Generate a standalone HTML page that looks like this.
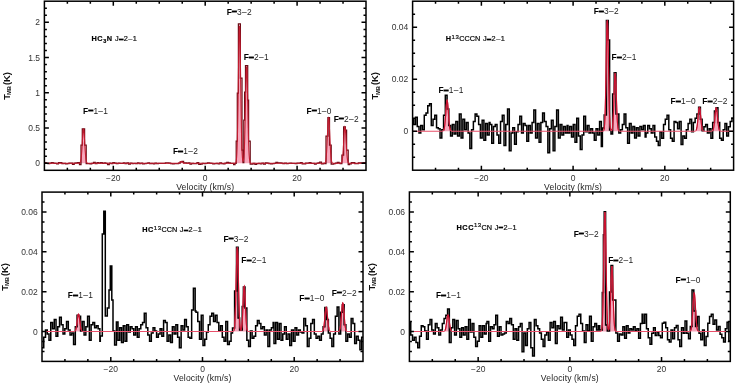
<!DOCTYPE html>
<html><head><meta charset="utf-8"><style>
html,body{margin:0;padding:0;background:#fff;width:735px;height:383px;overflow:hidden}
svg{display:block;filter:blur(0.3px)}
text{font-family:"Liberation Sans",sans-serif}
.tl{font-size:8.5px;fill:#333}
.al{font-size:8.6px;fill:#222;letter-spacing:0.14px}
.yl{font-size:9.4px;fill:#111;font-weight:bold}
.lb{font-size:8.4px;fill:#222;letter-spacing:0.3px}
.lb .b{font-weight:bold;fill:#000}
.m{font-weight:normal}
.eq{font-weight:bold;fill:#000;stroke:#000;stroke-width:1.0px}
.tt{font-size:7.3px;fill:#111;stroke:#111;stroke-width:0.22px;letter-spacing:0.5px}
.sb{font-size:5.5px}
.sp{font-size:6px}
.k{fill:#000;stroke:#000;stroke-width:0.2px;letter-spacing:0}
.tt .b{font-weight:bold;fill:#000}
.sub{font-size:5.8px}
.sub2{font-size:5px}
</style></head><body>
<svg width="735" height="383" viewBox="0 0 735 383">
<path d="M44.4 163.25 L78.65 163.24 L78.9 163.23 L79.15 163.21 L79.4 163.15 L79.65 163.05 L79.9 162.87 L80.15 162.56 L80.4 162.04 L80.65 161.21 L80.9 159.98 L81.15 158.22 L81.4 155.85 L81.65 152.82 L81.9 149.17 L82.15 145.06 L82.4 140.75 L82.65 136.6 L82.9 133.02 L83.15 130.43 L83.4 129.12 L83.65 129.27 L83.9 130.85 L84.15 133.67 L84.4 137.4 L84.65 141.61 L84.9 145.91 L85.15 149.94 L85.4 153.47 L85.65 156.37 L85.9 158.62 L86.15 160.26 L86.4 161.41 L86.65 162.16 L86.9 162.64 L87.15 162.92 L87.4 163.08 L87.65 163.17 L87.9 163.21 L88.15 163.24 L88.4 163.25 L177.4 163.25 L177.65 163.24 L177.9 163.22 L178.15 163.2 L178.4 163.16 L178.65 163.11 L178.9 163.03 L179.15 162.92 L179.4 162.78 L179.65 162.61 L179.9 162.42 L180.15 162.21 L180.4 162.01 L180.65 161.83 L180.9 161.69 L181.15 161.61 L181.4 161.61 L181.65 161.67 L181.9 161.79 L182.15 161.97 L182.4 162.17 L182.65 162.38 L182.9 162.57 L183.15 162.75 L183.4 162.9 L183.65 163.01 L183.9 163.1 L184.15 163.16 L184.4 163.2 L184.65 163.22 L184.9 163.24 L185.15 163.24 L234.4 163.25 L234.65 163.24 L234.9 163.21 L235.15 163.15 L235.4 163.01 L235.65 162.75 L235.9 162.23 L236.15 161.28 L236.4 159.61 L236.65 156.87 L236.9 152.56 L237.15 146.18 L237.4 137.25 L237.65 125.48 L237.9 110.92 L238.15 94.09 L238.4 76.07 L238.65 58.43 L238.9 43.03 L239.15 31.73 L239.4 26.02 L239.65 26.67 L239.9 33.59 L240.15 45.84 L240.4 61.84 L240.65 79.7 L240.9 97.6 L241.15 114.04 L241.4 128.07 L241.65 139.25 L241.9 147.62 L242.15 153.52 L242.4 157.4 L242.65 159.75 L242.9 160.97 L243.15 161.28 L243.4 160.8 L243.65 159.45 L243.9 157.02 L244.15 153.21 L244.4 147.72 L244.65 140.27 L244.9 130.81 L245.15 119.56 L245.4 107.12 L245.65 94.47 L245.9 82.86 L246.15 73.63 L246.4 67.95 L246.65 66.59 L246.9 69.74 L247.15 76.96 L247.4 87.29 L247.65 99.48 L247.9 112.18 L248.15 124.24 L248.4 134.83 L248.65 143.5 L248.9 150.16 L249.15 154.97 L249.4 158.26 L249.65 160.38 L249.9 161.68 L250.15 162.43 L250.4 162.84 L250.65 163.06 L250.9 163.17 L251.15 163.22 L251.4 163.24 L251.65 163.25 L323.65 163.25 L323.9 163.23 L324.15 163.21 L324.4 163.16 L324.65 163.05 L324.9 162.86 L325.15 162.53 L325.4 161.96 L325.65 161.05 L325.9 159.65 L326.15 157.62 L326.4 154.82 L326.65 151.17 L326.9 146.66 L327.15 141.45 L327.4 135.81 L327.65 130.17 L327.9 125.08 L328.15 121.07 L328.4 118.62 L328.65 118.04 L328.9 119.39 L329.15 122.51 L329.4 127.02 L329.65 132.39 L329.9 138.09 L330.15 143.6 L330.4 148.56 L330.65 152.74 L330.9 156.04 L331.15 158.52 L331.4 160.28 L331.65 161.46 L331.9 162.22 L332.15 162.68 L332.4 162.95 L332.65 163.1 L332.9 163.18 L333.15 163.22 L333.4 163.24 L333.65 163.25 L339.9 163.25 L340.15 163.24 L340.4 163.22 L340.65 163.19 L340.9 163.11 L341.15 162.98 L341.4 162.74 L341.65 162.33 L341.9 161.66 L342.15 160.63 L342.4 159.12 L342.65 157 L342.9 154.21 L343.15 150.74 L343.4 146.66 L343.65 142.18 L343.9 137.64 L344.15 133.43 L344.4 130.01 L344.65 127.78 L344.9 127 L345.15 127.78 L345.4 130.01 L345.65 133.43 L345.9 137.64 L346.15 142.18 L346.4 146.66 L346.65 150.74 L346.9 154.21 L347.15 157 L347.4 159.12 L347.65 160.63 L347.9 161.66 L348.15 162.33 L348.4 162.74 L348.65 162.98 L348.9 163.11 L349.15 163.19 L349.4 163.22 L349.65 163.24 L349.9 163.25 L365.9 163.25 L366 163.25 L44.4 163.25 Z" fill="#f7a8bd" stroke="none"/>
<path d="M44.4 162.7 L46.15 162.7 L46.15 163.42 L47.91 163.42 L47.91 163.7 L49.66 163.7 L49.66 163.02 L51.41 163.02 L51.41 162.66 L53.17 162.66 L53.17 163.22 L54.92 163.22 L54.92 163.47 L56.68 163.47 L56.68 163.75 L58.43 163.75 L58.43 162.71 L60.18 162.71 L60.18 162.67 L61.94 162.67 L61.94 163.57 L63.69 163.57 L63.69 163.47 L65.44 163.47 L65.44 163.94 L67.2 163.94 L67.2 163.7 L68.95 163.7 L68.95 163.21 L70.71 163.21 L70.71 163.13 L72.46 163.13 L72.46 164.41 L74.21 164.41 L74.21 163.12 L75.97 163.12 L75.97 162.9 L77.72 162.9 L77.72 162.74 L79.5 162.74 L79.5 164.5 L81 164.5 L81 145 L82.3 145 L82.3 128.9 L84.6 128.9 L84.6 145 L86.2 145 L86.2 163.5 L88.24 163.5 L88.24 163.57 L90 163.57 L90 163.75 L91.75 163.75 L91.75 163.35 L93.5 163.35 L93.5 162.45 L95.26 162.45 L95.26 163.57 L97.01 163.57 L97.01 162.62 L98.76 162.62 L98.76 163.18 L100.52 163.18 L100.52 162.59 L102.27 162.59 L102.27 163.26 L104.03 163.26 L104.03 162.9 L105.78 162.9 L105.78 163.35 L107.53 163.35 L107.53 164.74 L109.29 164.74 L109.29 163.23 L111.04 163.23 L111.04 163.63 L112.79 163.63 L112.79 162.66 L114.55 162.66 L114.55 163.12 L116.3 163.12 L116.3 163.55 L118.06 163.55 L118.06 163.21 L119.81 163.21 L119.81 163.42 L121.56 163.42 L121.56 163.3 L123.32 163.3 L123.32 162.8 L125.07 162.8 L125.07 163.51 L126.82 163.51 L126.82 162.89 L128.58 162.89 L128.58 164.1 L130.33 164.1 L130.33 163.03 L132.08 163.03 L132.08 163.56 L133.84 163.56 L133.84 163.26 L135.59 163.26 L135.59 163.68 L137.35 163.68 L137.35 162.98 L139.1 162.98 L139.1 163.7 L140.85 163.7 L140.85 163.2 L142.61 163.2 L142.61 163.82 L144.36 163.82 L144.36 163.54 L146.11 163.54 L146.11 163.32 L147.87 163.32 L147.87 162.9 L149.62 162.9 L149.62 163.6 L151.38 163.6 L151.38 163.46 L153.13 163.46 L153.13 163.99 L154.88 163.99 L154.88 163.08 L156.64 163.08 L156.64 163.5 L158.39 163.5 L158.39 163.48 L160.14 163.48 L160.14 163.38 L161.9 163.38 L161.9 163.35 L163.65 163.35 L163.65 163.34 L165.41 163.34 L165.41 162.98 L167.16 162.98 L167.16 162.8 L168.91 162.8 L168.91 163.08 L170.67 163.08 L170.67 163.52 L172.42 163.52 L172.42 163.93 L174.17 163.93 L174.17 163.69 L175.93 163.69 L175.93 163.73 L177.68 163.73 L177.68 163.6 L178.5 163.6 L178.5 163.2 L180.2 163.2 L180.2 161.8 L182 161.8 L182 161.4 L183.6 161.4 L183.6 162.8 L186.45 162.8 L186.45 163.11 L188.2 163.11 L188.2 162.94 L189.96 162.94 L189.96 164.14 L191.71 164.14 L191.71 163.36 L193.46 163.36 L193.46 163.69 L195.22 163.69 L195.22 163.65 L196.97 163.65 L196.97 162.74 L198.73 162.74 L198.73 164.35 L200.48 164.35 L200.48 164.05 L202.23 164.05 L202.23 163.33 L203.99 163.33 L203.99 163.59 L205.74 163.59 L205.74 163.31 L207.49 163.31 L207.49 162.86 L209.25 162.86 L209.25 163.2 L211 163.2 L211 163.42 L212.76 163.42 L212.76 163.76 L214.51 163.76 L214.51 163.57 L216.26 163.57 L216.26 163.28 L218.02 163.28 L218.02 163.86 L219.77 163.86 L219.77 162.91 L221.52 162.91 L221.52 163.61 L223.28 163.61 L223.28 163.75 L225.03 163.75 L225.03 163.12 L226.78 163.12 L226.78 162.45 L228.54 162.45 L228.54 162.85 L230.29 162.85 L230.29 163.36 L232.05 163.36 L232.05 163.49 L233.6 163.49 L233.6 164.5 L235 164.5 L235 163.4 L236.2 163.4 L236.2 141 L237.3 141 L237.3 93 L238.4 93 L238.4 23.8 L240.4 23.8 L240.4 78 L242 78 L242 150 L243 150 L243 162.5 L243.8 162.5 L243.8 120 L244.6 120 L244.6 92 L245.5 92 L245.5 65.5 L247.7 65.5 L247.7 100 L248.6 100 L248.6 141 L250.2 141 L250.2 164 L253.09 164 L253.09 163.35 L254.84 163.35 L254.84 164.37 L256.6 164.37 L256.6 163.53 L258.35 163.53 L258.35 163.31 L260.11 163.31 L260.11 163.96 L261.86 163.96 L261.86 163.22 L263.61 163.22 L263.61 164.09 L265.37 164.09 L265.37 162.95 L267.12 162.95 L267.12 163.04 L268.87 163.04 L268.87 163.58 L270.63 163.58 L270.63 163.9 L272.38 163.9 L272.38 163.55 L274.13 163.55 L274.13 163.39 L275.89 163.39 L275.89 162.43 L277.64 162.43 L277.64 162.93 L279.4 162.93 L279.4 162.98 L281.15 162.98 L281.15 163.01 L282.9 163.01 L282.9 163.52 L284.66 163.52 L284.66 163.1 L286.41 163.1 L286.41 163.61 L288.16 163.61 L288.16 163.29 L289.92 163.29 L289.92 163.1 L291.67 163.1 L291.67 163.31 L293.43 163.31 L293.43 163.45 L295.18 163.45 L295.18 163.64 L296.93 163.64 L296.93 163.04 L298.69 163.04 L298.69 163.15 L300.44 163.15 L300.44 162.64 L302.19 162.64 L302.19 163.98 L303.95 163.98 L303.95 163.91 L305.7 163.91 L305.7 163.17 L307.45 163.17 L307.45 163.04 L309.21 163.04 L309.21 162.7 L310.96 162.7 L310.96 163.33 L312.72 163.33 L312.72 163.35 L314.47 163.35 L314.47 164.24 L316.22 164.24 L316.22 163.37 L317.98 163.37 L317.98 162.9 L319.73 162.9 L319.73 162.15 L321.48 162.15 L321.48 163.89 L323.24 163.89 L323.24 163.34 L324.2 163.34 L324.2 163.6 L326 163.6 L326 136 L327.9 136 L327.9 117.6 L329.5 117.6 L329.5 145 L331.2 145 L331.2 164 L333.76 164 L333.76 163.51 L335.51 163.51 L335.51 163.18 L337.27 163.18 L337.27 162.29 L339.02 162.29 L339.02 163.2 L340.2 163.2 L340.2 163.5 L341.9 163.5 L341.9 155 L343.6 155 L343.6 126.8 L345.4 126.8 L345.4 130 L346.6 130 L346.6 150 L348.2 150 L348.2 164.5 L349.54 164.5 L349.54 163.99 L351.3 163.99 L351.3 162.72 L353.05 162.72 L353.05 162.56 L354.8 162.56 L354.8 163.65 L356.56 163.65 L356.56 163.64 L358.31 163.64 L358.31 162.81 L360.07 162.81 L360.07 162.94 L361.82 162.94 L361.82 162.94 L363.57 162.94 L363.57 162.72 L365.33 162.72 L365.33 162.95 L366 162.95" fill="none" stroke="#6a0a14" stroke-width="1.25" stroke-linejoin="miter"/>
<path d="M44.4 163.25 L78.65 163.24 L78.9 163.23 L79.15 163.21 L79.4 163.15 L79.65 163.05 L79.9 162.87 L80.15 162.56 L80.4 162.04 L80.65 161.21 L80.9 159.98 L81.15 158.22 L81.4 155.85 L81.65 152.82 L81.9 149.17 L82.15 145.06 L82.4 140.75 L82.65 136.6 L82.9 133.02 L83.15 130.43 L83.4 129.12 L83.65 129.27 L83.9 130.85 L84.15 133.67 L84.4 137.4 L84.65 141.61 L84.9 145.91 L85.15 149.94 L85.4 153.47 L85.65 156.37 L85.9 158.62 L86.15 160.26 L86.4 161.41 L86.65 162.16 L86.9 162.64 L87.15 162.92 L87.4 163.08 L87.65 163.17 L87.9 163.21 L88.15 163.24 L88.4 163.25 L177.4 163.25 L177.65 163.24 L177.9 163.22 L178.15 163.2 L178.4 163.16 L178.65 163.11 L178.9 163.03 L179.15 162.92 L179.4 162.78 L179.65 162.61 L179.9 162.42 L180.15 162.21 L180.4 162.01 L180.65 161.83 L180.9 161.69 L181.15 161.61 L181.4 161.61 L181.65 161.67 L181.9 161.79 L182.15 161.97 L182.4 162.17 L182.65 162.38 L182.9 162.57 L183.15 162.75 L183.4 162.9 L183.65 163.01 L183.9 163.1 L184.15 163.16 L184.4 163.2 L184.65 163.22 L184.9 163.24 L185.15 163.24 L234.4 163.25 L234.65 163.24 L234.9 163.21 L235.15 163.15 L235.4 163.01 L235.65 162.75 L235.9 162.23 L236.15 161.28 L236.4 159.61 L236.65 156.87 L236.9 152.56 L237.15 146.18 L237.4 137.25 L237.65 125.48 L237.9 110.92 L238.15 94.09 L238.4 76.07 L238.65 58.43 L238.9 43.03 L239.15 31.73 L239.4 26.02 L239.65 26.67 L239.9 33.59 L240.15 45.84 L240.4 61.84 L240.65 79.7 L240.9 97.6 L241.15 114.04 L241.4 128.07 L241.65 139.25 L241.9 147.62 L242.15 153.52 L242.4 157.4 L242.65 159.75 L242.9 160.97 L243.15 161.28 L243.4 160.8 L243.65 159.45 L243.9 157.02 L244.15 153.21 L244.4 147.72 L244.65 140.27 L244.9 130.81 L245.15 119.56 L245.4 107.12 L245.65 94.47 L245.9 82.86 L246.15 73.63 L246.4 67.95 L246.65 66.59 L246.9 69.74 L247.15 76.96 L247.4 87.29 L247.65 99.48 L247.9 112.18 L248.15 124.24 L248.4 134.83 L248.65 143.5 L248.9 150.16 L249.15 154.97 L249.4 158.26 L249.65 160.38 L249.9 161.68 L250.15 162.43 L250.4 162.84 L250.65 163.06 L250.9 163.17 L251.15 163.22 L251.4 163.24 L251.65 163.25 L323.65 163.25 L323.9 163.23 L324.15 163.21 L324.4 163.16 L324.65 163.05 L324.9 162.86 L325.15 162.53 L325.4 161.96 L325.65 161.05 L325.9 159.65 L326.15 157.62 L326.4 154.82 L326.65 151.17 L326.9 146.66 L327.15 141.45 L327.4 135.81 L327.65 130.17 L327.9 125.08 L328.15 121.07 L328.4 118.62 L328.65 118.04 L328.9 119.39 L329.15 122.51 L329.4 127.02 L329.65 132.39 L329.9 138.09 L330.15 143.6 L330.4 148.56 L330.65 152.74 L330.9 156.04 L331.15 158.52 L331.4 160.28 L331.65 161.46 L331.9 162.22 L332.15 162.68 L332.4 162.95 L332.65 163.1 L332.9 163.18 L333.15 163.22 L333.4 163.24 L333.65 163.25 L339.9 163.25 L340.15 163.24 L340.4 163.22 L340.65 163.19 L340.9 163.11 L341.15 162.98 L341.4 162.74 L341.65 162.33 L341.9 161.66 L342.15 160.63 L342.4 159.12 L342.65 157 L342.9 154.21 L343.15 150.74 L343.4 146.66 L343.65 142.18 L343.9 137.64 L344.15 133.43 L344.4 130.01 L344.65 127.78 L344.9 127 L345.15 127.78 L345.4 130.01 L345.65 133.43 L345.9 137.64 L346.15 142.18 L346.4 146.66 L346.65 150.74 L346.9 154.21 L347.15 157 L347.4 159.12 L347.65 160.63 L347.9 161.66 L348.15 162.33 L348.4 162.74 L348.65 162.98 L348.9 163.11 L349.15 163.19 L349.4 163.22 L349.65 163.24 L349.9 163.25 L365.9 163.25" fill="none" stroke="#c41c30" stroke-width="1.1"/>
<path d="M67.37 170.3v-2.5M67.37 1.2v2.5M90.34 170.3v-2.5M90.34 1.2v2.5M113.31 170.3v-4.5M113.31 1.2v4.5M136.29 170.3v-2.5M136.29 1.2v2.5M159.26 170.3v-2.5M159.26 1.2v2.5M182.23 170.3v-2.5M182.23 1.2v2.5M205.2 170.3v-4.5M205.2 1.2v4.5M228.17 170.3v-2.5M228.17 1.2v2.5M251.14 170.3v-2.5M251.14 1.2v2.5M274.11 170.3v-2.5M274.11 1.2v2.5M297.09 170.3v-4.5M297.09 1.2v4.5M320.06 170.3v-2.5M320.06 1.2v2.5M343.03 170.3v-2.5M343.03 1.2v2.5M44.4 163.25h4.5M366 163.25h-4.5M44.4 156.21h2.5M366 156.21h-2.5M44.4 149.16h2.5M366 149.16h-2.5M44.4 142.12h2.5M366 142.12h-2.5M44.4 135.07h2.5M366 135.07h-2.5M44.4 128.03h4.5M366 128.03h-4.5M44.4 120.98h2.5M366 120.98h-2.5M44.4 113.93h2.5M366 113.93h-2.5M44.4 106.89h2.5M366 106.89h-2.5M44.4 99.84h2.5M366 99.84h-2.5M44.4 92.8h4.5M366 92.8h-4.5M44.4 85.75h2.5M366 85.75h-2.5M44.4 78.7h2.5M366 78.7h-2.5M44.4 71.66h2.5M366 71.66h-2.5M44.4 64.61h2.5M366 64.61h-2.5M44.4 57.57h4.5M366 57.57h-4.5M44.4 50.52h2.5M366 50.52h-2.5M44.4 43.47h2.5M366 43.47h-2.5M44.4 36.43h2.5M366 36.43h-2.5M44.4 29.38h2.5M366 29.38h-2.5M44.4 22.34h4.5M366 22.34h-4.5M44.4 15.29h2.5M366 15.29h-2.5M44.4 8.25h2.5M366 8.25h-2.5" stroke="#000" stroke-width="1.5" fill="none"/>
<rect x="44.4" y="1.2" width="321.6" height="169.1" stroke="#000" stroke-width="1.5" fill="none"/>
<text x="40.1" y="166.35" class="tl" text-anchor="end">0</text>
<text x="40.1" y="131.12" class="tl" text-anchor="end">0.5</text>
<text x="40.1" y="95.9" class="tl" text-anchor="end">1</text>
<text x="40.1" y="60.67" class="tl" text-anchor="end">1.5</text>
<text x="40.1" y="25.44" class="tl" text-anchor="end">2</text>
<text x="113.31" y="180.9" class="tl" text-anchor="middle">−20</text>
<text x="205.2" y="180.9" class="tl" text-anchor="middle">0</text>
<text x="297.09" y="180.9" class="tl" text-anchor="middle">20</text>
<text x="205.2" y="190.1" class="al" text-anchor="middle">Velocity (km/s)</text>
<text transform="translate(9.9 99.65) rotate(-90)" class="yl">T<tspan class="sub" dx="-1.2" dy="1.5">MB</tspan><tspan dy="-1.5" dx="1.0">(K)</tspan></text>
<text x="83" y="113.7" class="lb"><tspan class="b">F</tspan><tspan class="eq" dy="-0.5">–</tspan><tspan dy="0.5">1</tspan><tspan class="m">–</tspan>1</text>
<text x="172.9" y="154.2" class="lb"><tspan class="b">F</tspan><tspan class="eq" dy="-0.5">–</tspan><tspan dy="0.5">1</tspan><tspan class="m">–</tspan>2</text>
<text x="226.7" y="14.5" class="lb"><tspan class="b">F</tspan><tspan class="eq" dy="-0.5">–</tspan><tspan dy="0.5">3</tspan><tspan class="m">–</tspan>2</text>
<text x="243.7" y="60" class="lb"><tspan class="b">F</tspan><tspan class="eq" dy="-0.5">–</tspan><tspan dy="0.5">2</tspan><tspan class="m">–</tspan>1</text>
<text x="306.5" y="113.6" class="lb"><tspan class="b">F</tspan><tspan class="eq" dy="-0.5">–</tspan><tspan dy="0.5">1</tspan><tspan class="m">–</tspan>0</text>
<text x="333.7" y="121.9" class="lb"><tspan class="b">F</tspan><tspan class="eq" dy="-0.5">–</tspan><tspan dy="0.5">2</tspan><tspan class="m">–</tspan>2</text>
<text x="91.6" y="41.2" class="tt"><tspan class="b">HC</tspan><tspan class="sb b" dy="1.6">3</tspan><tspan class="b" dy="-1.6">N</tspan> J<tspan class="eq" dy="-0.6">–</tspan><tspan dy="0.6">2–1</tspan></text>
<path d="M412.6 131.2 L441.85 131.19 L442.1 131.18 L442.35 131.16 L442.6 131.12 L442.85 131.05 L443.1 130.93 L443.35 130.72 L443.6 130.38 L443.85 129.85 L444.1 129.05 L444.35 127.91 L444.6 126.35 L444.85 124.31 L445.1 121.77 L445.35 118.75 L445.6 115.37 L445.85 111.8 L446.1 108.29 L446.35 105.12 L446.6 102.6 L446.85 100.96 L447.1 100.4 L447.35 100.96 L447.6 102.6 L447.85 105.12 L448.1 108.29 L448.35 111.8 L448.6 115.37 L448.85 118.75 L449.1 121.77 L449.35 124.31 L449.6 126.35 L449.85 127.91 L450.1 129.05 L450.35 129.85 L450.6 130.38 L450.85 130.72 L451.1 130.93 L451.35 131.05 L451.6 131.12 L451.85 131.16 L452.1 131.18 L452.35 131.19 L602.1 131.2 L602.35 131.19 L602.6 131.17 L602.85 131.14 L603.1 131.06 L603.35 130.9 L603.6 130.57 L603.85 129.97 L604.1 128.89 L604.35 127.07 L604.6 124.15 L604.85 119.74 L605.1 113.41 L605.35 104.86 L605.6 94.01 L605.85 81.11 L606.1 66.86 L606.35 52.36 L606.6 39.05 L606.85 28.47 L607.1 21.96 L607.35 20.4 L607.6 24.01 L607.85 32.28 L608.1 44.13 L608.35 58.1 L608.6 72.66 L608.85 86.48 L609.1 98.62 L609.35 108.56 L609.6 116.19 L609.85 121.71 L610.1 125.47 L610.35 127.9 L610.6 129.37 L610.85 130.21 L611.1 130.63 L611.35 130.76 L611.6 130.67 L611.85 130.33 L612.1 129.66 L612.35 128.52 L612.6 126.72 L612.85 124.05 L613.1 120.31 L613.35 115.38 L613.6 109.28 L613.85 102.23 L614.1 94.68 L614.35 87.29 L614.6 80.84 L614.85 76.11 L615.1 73.72 L615.35 73.99 L615.6 76.89 L615.85 82.02 L616.1 88.72 L616.35 96.2 L616.6 103.7 L616.85 110.59 L617.1 116.46 L617.35 121.15 L617.6 124.66 L617.85 127.14 L618.1 128.8 L618.35 129.84 L618.6 130.47 L618.85 130.83 L619.1 131.02 L619.35 131.11 L619.6 131.16 L619.85 131.18 L620.1 131.19 L694.1 131.19 L694.35 131.19 L694.6 131.17 L694.85 131.15 L695.1 131.1 L695.35 131.01 L695.6 130.87 L695.85 130.63 L696.1 130.25 L696.35 129.68 L696.6 128.86 L696.85 127.72 L697.1 126.22 L697.35 124.34 L697.6 122.07 L697.85 119.51 L698.1 116.76 L698.35 114.02 L698.6 111.51 L698.85 109.44 L699.1 108.03 L699.35 107.42 L699.6 107.68 L699.85 108.78 L700.1 110.61 L700.35 112.98 L700.6 115.66 L700.85 118.42 L701.1 121.08 L701.35 123.47 L701.6 125.52 L701.85 127.17 L702.1 128.45 L702.35 129.39 L702.6 130.05 L702.85 130.5 L703.1 130.79 L703.35 130.96 L703.6 131.07 L703.85 131.13 L704.1 131.17 L704.35 131.18 L704.6 131.19 L710.85 131.2 L711.1 131.19 L711.35 131.18 L711.6 131.16 L711.85 131.11 L712.1 131.04 L712.35 130.91 L712.6 130.7 L712.85 130.36 L713.1 129.84 L713.35 129.09 L713.6 128.05 L713.85 126.65 L714.1 124.88 L714.35 122.74 L714.6 120.27 L714.85 117.61 L715.1 114.91 L715.35 112.38 L715.6 110.25 L715.85 108.73 L716.1 107.97 L716.35 108.05 L716.6 108.98 L716.85 110.64 L717.1 112.87 L717.35 115.44 L717.6 118.15 L717.85 120.79 L718.1 123.19 L718.35 125.27 L718.6 126.96 L718.85 128.28 L719.1 129.26 L719.35 129.96 L719.6 130.44 L719.85 130.75 L720.1 130.94 L720.35 131.06 L720.6 131.12 L720.85 131.16 L721.1 131.18 L721.35 131.19 L733.6 131.2 L733.6 131.2 L412.6 131.2 Z" fill="#f7a8bd" stroke="none"/>
<path d="M412.6 119.32 L413.75 119.32 L413.75 124.53 L415.51 124.53 L415.51 117.23 L417.26 117.23 L417.26 126.62 L419.01 126.62 L419.01 132.89 L420.77 132.89 L420.77 125.58 L422.52 125.58 L422.52 129.75 L424.28 129.75 L424.28 115.14 L426.03 115.14 L426.03 113.05 L427.78 113.05 L427.78 105.75 L429.54 105.75 L429.54 103.66 L431.29 103.66 L431.29 125.58 L433.04 125.58 L433.04 119.32 L434.8 119.32 L434.8 115.14 L436.55 115.14 L436.55 127.67 L438.3 127.67 L438.3 128.71 L440.06 128.71 L440.06 138.1 L441.81 138.1 L441.81 129.75 L443.57 129.75 L443.57 115.14 L445.32 115.14 L445.32 95.31 L447.07 95.31 L447.07 108.88 L448.83 108.88 L448.83 125.58 L450.58 125.58 L450.58 136.02 L452.33 136.02 L452.33 124.53 L454.09 124.53 L454.09 133.93 L455.84 133.93 L455.84 121.4 L457.59 121.4 L457.59 136.02 L459.35 136.02 L459.35 114.1 L461.1 114.1 L461.1 138.1 L462.86 138.1 L462.86 119.32 L464.61 119.32 L464.61 129.75 L466.36 129.75 L466.36 122.45 L468.12 122.45 L468.12 132.89 L469.87 132.89 L469.87 148.54 L471.62 148.54 L471.62 129.75 L473.38 129.75 L473.38 121.4 L475.13 121.4 L475.13 114.1 L476.89 114.1 L476.89 116.18 L478.64 116.18 L478.64 124.53 L480.39 124.53 L480.39 138.1 L482.15 138.1 L482.15 120.36 L483.9 120.36 L483.9 140.19 L485.65 140.19 L485.65 123.49 L487.41 123.49 L487.41 134.97 L489.16 134.97 L489.16 122.45 L490 122.45 L490 124.53 L491.75 124.53 L491.75 143.32 L493.51 143.32 L493.51 126.62 L495.26 126.62 L495.26 124.53 L497.01 124.53 L497.01 134.97 L498.77 134.97 L498.77 143.32 L500.52 143.32 L500.52 121.4 L502.28 121.4 L502.28 115.14 L504.03 115.14 L504.03 145.41 L505.78 145.41 L505.78 124.53 L507.54 124.53 L507.54 108.88 L509.29 108.88 L509.29 150.63 L511.04 150.63 L511.04 132.89 L512.8 132.89 L512.8 127.67 L514.55 127.67 L514.55 144.37 L516.3 144.37 L516.3 131.84 L518.06 131.84 L518.06 124.53 L519.81 124.53 L519.81 116.18 L521.57 116.18 L521.57 132.89 L523.32 132.89 L523.32 123.49 L525.07 123.49 L525.07 125.58 L526.83 125.58 L526.83 141.24 L528.58 141.24 L528.58 125.58 L530.33 125.58 L530.33 132.89 L532.09 132.89 L532.09 122.45 L533.84 122.45 L533.84 109.92 L535.59 109.92 L535.59 138.1 L537.35 138.1 L537.35 123.49 L539.1 123.49 L539.1 142.28 L540.86 142.28 L540.86 122.45 L542.61 122.45 L542.61 113.05 L544.36 113.05 L544.36 121.4 L546.12 121.4 L546.12 126.62 L547.87 126.62 L547.87 152.72 L549.62 152.72 L549.62 128.71 L551.38 128.71 L551.38 120.36 L553.13 120.36 L553.13 150.63 L554.89 150.63 L554.89 126.62 L556.64 126.62 L556.64 109.92 L558.39 109.92 L558.39 138.1 L560.15 138.1 L560.15 124.53 L561.9 124.53 L561.9 134.97 L563.65 134.97 L563.65 126.62 L565.41 126.62 L565.41 132.89 L567.16 132.89 L567.16 125.58 L568 125.58 L568 132.89 L569.75 132.89 L569.75 126.62 L571.51 126.62 L571.51 137.06 L573.26 137.06 L573.26 124.53 L575.01 124.53 L575.01 142.28 L576.77 142.28 L576.77 118.27 L578.52 118.27 L578.52 136.02 L580.28 136.02 L580.28 149.59 L582.03 149.59 L582.03 134.97 L583.78 134.97 L583.78 116.18 L585.54 116.18 L585.54 131.84 L587.29 131.84 L587.29 125.58 L589.04 125.58 L589.04 132.89 L590.8 132.89 L590.8 128.71 L592.55 128.71 L592.55 132.89 L594.3 132.89 L594.3 140.19 L596.06 140.19 L596.06 128.71 L597.81 128.71 L597.81 134.97 L599.57 134.97 L599.57 121.4 L601.32 121.4 L601.32 146.46 L602.4 146.46 L602.4 128 L604.2 128 L604.2 115 L606.4 115 L606.4 20.5 L608.2 20.5 L608.2 40 L609.6 40 L609.6 130 L611 130 L611 134 L612.6 134 L612.6 94 L614.2 94 L614.2 72.7 L616 72.7 L616 114 L618.86 114 L618.86 132.89 L620.61 132.89 L620.61 129.75 L622.36 129.75 L622.36 124.53 L624.12 124.53 L624.12 114.1 L625.87 114.1 L625.87 127.67 L627.62 127.67 L627.62 143.32 L629.38 143.32 L629.38 123.49 L631.13 123.49 L631.13 132.89 L632.89 132.89 L632.89 126.62 L634.64 126.62 L634.64 138.1 L636.39 138.1 L636.39 127.67 L638.15 127.67 L638.15 136.02 L639.9 136.02 L639.9 126.62 L641.65 126.62 L641.65 129.75 L643.41 129.75 L643.41 125.58 L645.16 125.58 L645.16 137.06 L646 137.06 L646 132.91 L647.75 132.91 L647.75 125.6 L649.51 125.6 L649.51 128.74 L651.26 128.74 L651.26 132.91 L653.02 132.91 L653.02 125.6 L654.77 125.6 L654.77 137.09 L656.53 137.09 L656.53 141.27 L658.28 141.27 L658.28 145.45 L660.04 145.45 L660.04 131.87 L661.79 131.87 L661.79 138.14 L663.55 138.14 L663.55 124.56 L665.3 124.56 L665.3 119.33 L667.06 119.33 L667.06 115.16 L668.81 115.16 L668.81 129.78 L670.57 129.78 L670.57 138.14 L672.32 138.14 L672.32 141.27 L674.08 141.27 L674.08 121.42 L675.83 121.42 L675.83 122.47 L677.59 122.47 L677.59 128.74 L679.34 128.74 L679.34 121.42 L681.1 121.42 L681.1 144.4 L682.85 144.4 L682.85 136.05 L684.6 136.05 L684.6 138.14 L686.36 138.14 L686.36 129.78 L688.11 129.78 L688.11 123.51 L689.87 123.51 L689.87 119.33 L691.62 119.33 L691.62 131.87 L693.38 131.87 L693.38 122.47 L695.13 122.47 L695.13 118.29 L696.89 118.29 L696.89 114.11 L698.64 114.11 L698.64 107.22 L700.4 107.22 L700.4 119.33 L702.15 119.33 L702.15 130.82 L703.91 130.82 L703.91 126.65 L705.66 126.65 L705.66 124.56 L707.42 124.56 L707.42 132.91 L709.17 132.91 L709.17 128.74 L710.93 128.74 L710.93 138.14 L712.68 138.14 L712.68 122.47 L714.44 122.47 L714.44 110.98 L716.19 110.98 L716.19 107.85 L717.94 107.85 L717.94 122.47 L719.7 122.47 L719.7 138.14 L721.45 138.14 L721.45 140.22 L723.21 140.22 L723.21 129.78 L724.96 129.78 L724.96 123.51 L726.72 123.51 L726.72 136.05 L728.47 136.05 L728.47 126.65 L730.23 126.65 L730.23 121.42 L731.98 121.42 L731.98 118.29 L733.6 118.29" fill="none" stroke="#000" stroke-width="1.5" stroke-linejoin="miter"/>
<path d="M412.6 131.2 L441.85 131.19 L442.1 131.18 L442.35 131.16 L442.6 131.12 L442.85 131.05 L443.1 130.93 L443.35 130.72 L443.6 130.38 L443.85 129.85 L444.1 129.05 L444.35 127.91 L444.6 126.35 L444.85 124.31 L445.1 121.77 L445.35 118.75 L445.6 115.37 L445.85 111.8 L446.1 108.29 L446.35 105.12 L446.6 102.6 L446.85 100.96 L447.1 100.4 L447.35 100.96 L447.6 102.6 L447.85 105.12 L448.1 108.29 L448.35 111.8 L448.6 115.37 L448.85 118.75 L449.1 121.77 L449.35 124.31 L449.6 126.35 L449.85 127.91 L450.1 129.05 L450.35 129.85 L450.6 130.38 L450.85 130.72 L451.1 130.93 L451.35 131.05 L451.6 131.12 L451.85 131.16 L452.1 131.18 L452.35 131.19 L602.1 131.2 L602.35 131.19 L602.6 131.17 L602.85 131.14 L603.1 131.06 L603.35 130.9 L603.6 130.57 L603.85 129.97 L604.1 128.89 L604.35 127.07 L604.6 124.15 L604.85 119.74 L605.1 113.41 L605.35 104.86 L605.6 94.01 L605.85 81.11 L606.1 66.86 L606.35 52.36 L606.6 39.05 L606.85 28.47 L607.1 21.96 L607.35 20.4 L607.6 24.01 L607.85 32.28 L608.1 44.13 L608.35 58.1 L608.6 72.66 L608.85 86.48 L609.1 98.62 L609.35 108.56 L609.6 116.19 L609.85 121.71 L610.1 125.47 L610.35 127.9 L610.6 129.37 L610.85 130.21 L611.1 130.63 L611.35 130.76 L611.6 130.67 L611.85 130.33 L612.1 129.66 L612.35 128.52 L612.6 126.72 L612.85 124.05 L613.1 120.31 L613.35 115.38 L613.6 109.28 L613.85 102.23 L614.1 94.68 L614.35 87.29 L614.6 80.84 L614.85 76.11 L615.1 73.72 L615.35 73.99 L615.6 76.89 L615.85 82.02 L616.1 88.72 L616.35 96.2 L616.6 103.7 L616.85 110.59 L617.1 116.46 L617.35 121.15 L617.6 124.66 L617.85 127.14 L618.1 128.8 L618.35 129.84 L618.6 130.47 L618.85 130.83 L619.1 131.02 L619.35 131.11 L619.6 131.16 L619.85 131.18 L620.1 131.19 L694.1 131.19 L694.35 131.19 L694.6 131.17 L694.85 131.15 L695.1 131.1 L695.35 131.01 L695.6 130.87 L695.85 130.63 L696.1 130.25 L696.35 129.68 L696.6 128.86 L696.85 127.72 L697.1 126.22 L697.35 124.34 L697.6 122.07 L697.85 119.51 L698.1 116.76 L698.35 114.02 L698.6 111.51 L698.85 109.44 L699.1 108.03 L699.35 107.42 L699.6 107.68 L699.85 108.78 L700.1 110.61 L700.35 112.98 L700.6 115.66 L700.85 118.42 L701.1 121.08 L701.35 123.47 L701.6 125.52 L701.85 127.17 L702.1 128.45 L702.35 129.39 L702.6 130.05 L702.85 130.5 L703.1 130.79 L703.35 130.96 L703.6 131.07 L703.85 131.13 L704.1 131.17 L704.35 131.18 L704.6 131.19 L710.85 131.2 L711.1 131.19 L711.35 131.18 L711.6 131.16 L711.85 131.11 L712.1 131.04 L712.35 130.91 L712.6 130.7 L712.85 130.36 L713.1 129.84 L713.35 129.09 L713.6 128.05 L713.85 126.65 L714.1 124.88 L714.35 122.74 L714.6 120.27 L714.85 117.61 L715.1 114.91 L715.35 112.38 L715.6 110.25 L715.85 108.73 L716.1 107.97 L716.35 108.05 L716.6 108.98 L716.85 110.64 L717.1 112.87 L717.35 115.44 L717.6 118.15 L717.85 120.79 L718.1 123.19 L718.35 125.27 L718.6 126.96 L718.85 128.28 L719.1 129.26 L719.35 129.96 L719.6 130.44 L719.85 130.75 L720.1 130.94 L720.35 131.06 L720.6 131.12 L720.85 131.16 L721.1 131.18 L721.35 131.19 L733.6 131.2" fill="none" stroke="#e8506a" stroke-width="1.05"/>
<path d="M443.6 130.38 L443.85 129.85 L444.1 129.05 L444.35 127.91 L444.6 126.35 L444.85 124.31 L445.1 121.77 L445.35 118.75 L445.6 115.37 L445.85 111.8 L446.1 108.29 L446.35 105.12 L446.6 102.6 L446.85 100.96 L447.1 100.4 L447.35 100.96 L447.6 102.6 L447.85 105.12 L448.1 108.29 L448.35 111.8 L448.6 115.37 L448.85 118.75 L449.1 121.77 L449.35 124.31 L449.6 126.35 L449.85 127.91 L450.1 129.05 L450.35 129.85 L450.6 130.38 M603.6 130.57 L603.85 129.97 L604.1 128.89 L604.35 127.07 L604.6 124.15 L604.85 119.74 L605.1 113.41 L605.35 104.86 L605.6 94.01 L605.85 81.11 L606.1 66.86 L606.35 52.36 L606.6 39.05 L606.85 28.47 L607.1 21.96 L607.35 20.4 L607.6 24.01 L607.85 32.28 L608.1 44.13 L608.35 58.1 L608.6 72.66 L608.85 86.48 L609.1 98.62 L609.35 108.56 L609.6 116.19 L609.85 121.71 L610.1 125.47 L610.35 127.9 L610.6 129.37 L610.85 130.21 M611.85 130.33 L612.1 129.66 L612.35 128.52 L612.6 126.72 L612.85 124.05 L613.1 120.31 L613.35 115.38 L613.6 109.28 L613.85 102.23 L614.1 94.68 L614.35 87.29 L614.6 80.84 L614.85 76.11 L615.1 73.72 L615.35 73.99 L615.6 76.89 L615.85 82.02 L616.1 88.72 L616.35 96.2 L616.6 103.7 L616.85 110.59 L617.1 116.46 L617.35 121.15 L617.6 124.66 L617.85 127.14 L618.1 128.8 L618.35 129.84 L618.6 130.47 M696.1 130.25 L696.35 129.68 L696.6 128.86 L696.85 127.72 L697.1 126.22 L697.35 124.34 L697.6 122.07 L697.85 119.51 L698.1 116.76 L698.35 114.02 L698.6 111.51 L698.85 109.44 L699.1 108.03 L699.35 107.42 L699.6 107.68 L699.85 108.78 L700.1 110.61 L700.35 112.98 L700.6 115.66 L700.85 118.42 L701.1 121.08 L701.35 123.47 L701.6 125.52 L701.85 127.17 L702.1 128.45 L702.35 129.39 L702.6 130.05 L702.85 130.5 M712.85 130.36 L713.1 129.84 L713.35 129.09 L713.6 128.05 L713.85 126.65 L714.1 124.88 L714.35 122.74 L714.6 120.27 L714.85 117.61 L715.1 114.91 L715.35 112.38 L715.6 110.25 L715.85 108.73 L716.1 107.97 L716.35 108.05 L716.6 108.98 L716.85 110.64 L717.1 112.87 L717.35 115.44 L717.6 118.15 L717.85 120.79 L718.1 123.19 L718.35 125.27 L718.6 126.96 L718.85 128.28 L719.1 129.26 L719.35 129.96 L719.6 130.44" fill="none" stroke="#c8102e" stroke-width="1.15"/>
<path d="M435.53 170.2v-2.5M435.53 1.2v2.5M458.46 170.2v-2.5M458.46 1.2v2.5M481.39 170.2v-4.5M481.39 1.2v4.5M504.31 170.2v-2.5M504.31 1.2v2.5M527.24 170.2v-2.5M527.24 1.2v2.5M550.17 170.2v-2.5M550.17 1.2v2.5M573.1 170.2v-4.5M573.1 1.2v4.5M596.03 170.2v-2.5M596.03 1.2v2.5M618.96 170.2v-2.5M618.96 1.2v2.5M641.89 170.2v-2.5M641.89 1.2v2.5M664.81 170.2v-4.5M664.81 1.2v4.5M687.74 170.2v-2.5M687.74 1.2v2.5M710.67 170.2v-2.5M710.67 1.2v2.5M412.6 157.2h2.5M733.6 157.2h-2.5M412.6 144.2h2.5M733.6 144.2h-2.5M412.6 131.2h4.5M733.6 131.2h-4.5M412.6 118.2h2.5M733.6 118.2h-2.5M412.6 105.2h2.5M733.6 105.2h-2.5M412.6 92.2h2.5M733.6 92.2h-2.5M412.6 79.2h4.5M733.6 79.2h-4.5M412.6 66.2h2.5M733.6 66.2h-2.5M412.6 53.2h2.5M733.6 53.2h-2.5M412.6 40.2h2.5M733.6 40.2h-2.5M412.6 27.2h4.5M733.6 27.2h-4.5M412.6 14.2h2.5M733.6 14.2h-2.5" stroke="#000" stroke-width="1.5" fill="none"/>
<rect x="412.6" y="1.2" width="321" height="169" stroke="#000" stroke-width="1.5" fill="none"/>
<text x="408.3" y="134.3" class="tl" text-anchor="end">0</text>
<text x="408.3" y="82.3" class="tl" text-anchor="end">0.02</text>
<text x="408.3" y="30.3" class="tl" text-anchor="end">0.04</text>
<text x="481.39" y="180.8" class="tl" text-anchor="middle">−20</text>
<text x="573.1" y="180.8" class="tl" text-anchor="middle">0</text>
<text x="664.81" y="180.8" class="tl" text-anchor="middle">20</text>
<text x="573.1" y="190" class="al" text-anchor="middle">Velocity (km/s)</text>
<text transform="translate(378.1 99.6) rotate(-90)" class="yl">T<tspan class="sub" dx="-1.2" dy="1.5">MB</tspan><tspan dy="-1.5" dx="1.0">(K)</tspan></text>
<text x="438.4" y="93.3" class="lb"><tspan class="b">F</tspan><tspan class="eq" dy="-0.5">–</tspan><tspan dy="0.5">1</tspan><tspan class="m">–</tspan>1</text>
<text x="593.7" y="14.4" class="lb"><tspan class="b">F</tspan><tspan class="eq" dy="-0.5">–</tspan><tspan dy="0.5">3</tspan><tspan class="m">–</tspan>2</text>
<text x="611.5" y="60.2" class="lb"><tspan class="b">F</tspan><tspan class="eq" dy="-0.5">–</tspan><tspan dy="0.5">2</tspan><tspan class="m">–</tspan>1</text>
<text x="670.6" y="104.3" class="lb"><tspan class="b">F</tspan><tspan class="eq" dy="-0.5">–</tspan><tspan dy="0.5">1</tspan><tspan class="m">–</tspan>0</text>
<text x="702.3" y="104.3" class="lb"><tspan class="b">F</tspan><tspan class="eq" dy="-0.5">–</tspan><tspan dy="0.5">2</tspan><tspan class="m">–</tspan>2</text>
<text x="445.8" y="41.3" class="tt"><tspan class="b">H</tspan><tspan class="sp" dy="-2.6">13</tspan><tspan class="k" dy="2.6">CCCN</tspan> J<tspan class="eq" dy="-0.6">–</tspan><tspan dy="0.6">2–1</tspan></text>
<path d="M42 331.52 L73.25 331.52 L73.5 331.51 L73.75 331.5 L74 331.48 L74.25 331.44 L74.5 331.37 L74.75 331.25 L75 331.06 L75.25 330.76 L75.5 330.32 L75.75 329.67 L76 328.8 L76.25 327.65 L76.5 326.22 L76.75 324.52 L77 322.62 L77.25 320.61 L77.5 318.64 L77.75 316.86 L78 315.44 L78.25 314.52 L78.5 314.2 L78.75 314.52 L79 315.44 L79.25 316.86 L79.5 318.64 L79.75 320.61 L80 322.62 L80.25 324.52 L80.5 326.22 L80.75 327.65 L81 328.8 L81.25 329.67 L81.5 330.32 L81.75 330.76 L82 331.06 L82.25 331.25 L82.5 331.37 L82.75 331.44 L83 331.48 L83.25 331.5 L83.5 331.51 L83.75 331.52 L232.25 331.52 L232.5 331.51 L232.75 331.49 L233 331.45 L233.25 331.35 L233.5 331.17 L233.75 330.81 L234 330.15 L234.25 329.02 L234.5 327.18 L234.75 324.32 L235 320.13 L235.25 314.33 L235.5 306.78 L235.75 297.56 L236 287.07 L236.25 276.01 L236.5 265.4 L236.75 256.4 L237 250.12 L237.25 247.38 L237.5 248.56 L237.75 253.51 L238 261.54 L238.25 271.65 L238.5 282.66 L238.75 293.49 L239 303.28 L239.25 311.52 L239.5 318 L239.75 322.79 L240 326.12 L240.25 328.26 L240.5 329.51 L240.75 330.09 L241 330.11 L241.25 329.62 L241.5 328.56 L241.75 326.82 L242 324.28 L242.25 320.82 L242.5 316.42 L242.75 311.19 L243 305.4 L243.25 299.52 L243.5 294.11 L243.75 289.82 L244 287.18 L244.25 286.54 L244.5 288.01 L244.75 291.37 L245 296.18 L245.25 301.85 L245.5 307.76 L245.75 313.37 L246 318.3 L246.25 322.33 L246.5 325.43 L246.75 327.67 L247 329.2 L247.25 330.19 L247.5 330.79 L247.75 331.14 L248 331.33 L248.25 331.43 L248.5 331.48 L248.75 331.51 L249 331.52 L321 331.52 L321.25 331.51 L321.5 331.49 L321.75 331.45 L322 331.39 L322.25 331.28 L322.5 331.1 L322.75 330.8 L323 330.35 L323.25 329.67 L323.5 328.71 L323.75 327.4 L324 325.71 L324.25 323.63 L324.5 321.18 L324.75 318.47 L325 315.64 L325.25 312.9 L325.5 310.48 L325.75 308.61 L326 307.49 L326.25 307.22 L326.5 307.84 L326.75 309.28 L327 311.4 L327.25 313.97 L327.5 316.77 L327.75 319.57 L328 322.2 L328.25 324.51 L328.5 326.44 L328.75 327.97 L329 329.13 L329.25 329.97 L329.5 330.55 L329.75 330.94 L330 331.18 L330.25 331.33 L330.5 331.42 L330.75 331.47 L331 331.5 L331.25 331.51 L331.5 331.52 L337.5 331.52 L337.75 331.51 L338 331.49 L338.25 331.46 L338.5 331.4 L338.75 331.3 L339 331.13 L339.25 330.84 L339.5 330.39 L339.75 329.7 L340 328.72 L340.25 327.36 L340.5 325.56 L340.75 323.3 L341 320.59 L341.25 317.51 L341.5 314.22 L341.75 310.94 L342 307.92 L342.25 305.44 L342.5 303.75 L342.75 303.02 L343 303.34 L343.25 304.66 L343.5 306.85 L343.75 309.68 L344 312.9 L344.25 316.21 L344.5 319.39 L344.75 322.26 L345 324.71 L345.25 326.69 L345.5 328.22 L345.75 329.35 L346 330.14 L346.25 330.68 L346.5 331.03 L346.75 331.24 L347 331.37 L347.25 331.44 L347.5 331.48 L347.75 331.5 L348 331.51 L363 331.52 L363 331.52 L42 331.52 Z" fill="#f7a8bd" stroke="none"/>
<path d="M42 347.63 L43.75 347.63 L43.75 337.19 L45.51 337.19 L45.51 329.89 L47.26 329.89 L47.26 334.06 L49.01 334.06 L49.01 340.32 L50.77 340.32 L50.77 322.58 L52.52 322.58 L52.52 328.84 L54.28 328.84 L54.28 319.45 L56.03 319.45 L56.03 336.15 L57.78 336.15 L57.78 326.75 L59.54 326.75 L59.54 317.36 L61.29 317.36 L61.29 324.67 L63.04 324.67 L63.04 334.06 L64.8 334.06 L64.8 328.84 L66.55 328.84 L66.55 321.53 L68.3 321.53 L68.3 329.89 L70.06 329.89 L70.06 335.1 L71.81 335.1 L71.81 333.02 L73.57 333.02 L73.57 344.5 L75.32 344.5 L75.32 326.75 L77.07 326.75 L77.07 315.27 L78.83 315.27 L78.83 316.32 L80.58 316.32 L80.58 330.93 L82.33 330.93 L82.33 321.53 L84.09 321.53 L84.09 335.1 L85.84 335.1 L85.84 326.75 L87.59 326.75 L87.59 316.32 L89.35 316.32 L89.35 340.32 L91.1 340.32 L91.1 324.67 L92.86 324.67 L92.86 322.58 L94.61 322.58 L94.61 327.8 L96.36 327.8 L96.36 325.71 L98.12 325.71 L98.12 328.84 L99.87 328.84 L99.87 341.37 L100.3 341.37 L100.3 336 L102.3 336 L102.3 234 L103.8 234 L103.8 211.3 L105.3 211.3 L105.3 316 L107.3 316 L107.3 308 L109 308 L109 290 L110.3 290 L110.3 266 L111.8 266 L111.8 300 L113 300 L113 331 L114.6 331 L114.6 345 L116.4 345 L116.4 322 L118 322 L118 340.32 L119.75 340.32 L119.75 327.8 L121.51 327.8 L121.51 342.41 L123.26 342.41 L123.26 325.71 L125.01 325.71 L125.01 341.37 L126.77 341.37 L126.77 324.67 L128.52 324.67 L128.52 331.97 L130.28 331.97 L130.28 326.75 L132.03 326.75 L132.03 328.84 L133.78 328.84 L133.78 335.1 L135.54 335.1 L135.54 326.75 L137.29 326.75 L137.29 337.19 L139.04 337.19 L139.04 328.84 L140.8 328.84 L140.8 324.67 L142.55 324.67 L142.55 322.58 L144.3 322.58 L144.3 313.18 L146.06 313.18 L146.06 327.8 L147.81 327.8 L147.81 335.1 L149.57 335.1 L149.57 341.37 L151.32 341.37 L151.32 333.02 L153.07 333.02 L153.07 327.8 L154.83 327.8 L154.83 330.93 L156.58 330.93 L156.58 337.19 L158.33 337.19 L158.33 334.06 L160.09 334.06 L160.09 328.84 L161.84 328.84 L161.84 336.15 L163.59 336.15 L163.59 320.49 L165.35 320.49 L165.35 322.58 L167.1 322.58 L167.1 341.37 L168.86 341.37 L168.86 335.1 L170.61 335.1 L170.61 342.41 L172.36 342.41 L172.36 326.75 L174.12 326.75 L174.12 334.06 L175.87 334.06 L175.87 324.67 L177.62 324.67 L177.62 337.19 L179.38 337.19 L179.38 347.63 L181.13 347.63 L181.13 325.71 L182.89 325.71 L182.89 329.89 L184.64 329.89 L184.64 319.45 L186.39 319.45 L186.39 326.75 L188.15 326.75 L188.15 337.19 L189.9 337.19 L189.9 338.24 L191.65 338.24 L191.65 310.05 L193.41 310.05 L193.41 288.13 L195.16 288.13 L195.16 311.1 L196 311.1 L196 312.14 L197.75 312.14 L197.75 321.53 L199.51 321.53 L199.51 339.28 L201.26 339.28 L201.26 315.27 L203.01 315.27 L203.01 345.54 L204.77 345.54 L204.77 339.28 L206.52 339.28 L206.52 331.97 L208.28 331.97 L208.28 324.67 L210.03 324.67 L210.03 316.32 L211.78 316.32 L211.78 313.18 L213.54 313.18 L213.54 321.53 L215.29 321.53 L215.29 315.27 L217.04 315.27 L217.04 322.58 L218.8 322.58 L218.8 330.93 L220.55 330.93 L220.55 325.71 L222.3 325.71 L222.3 337.19 L224.06 337.19 L224.06 341.37 L225.81 341.37 L225.81 321.53 L227.57 321.53 L227.57 344.5 L229.32 344.5 L229.32 341.37 L231.07 341.37 L231.07 333.02 L232.5 333.02 L232.5 328 L234.6 328 L234.6 291 L236.5 291 L236.5 247.3 L238.1 247.3 L238.1 318 L239.6 318 L239.6 330 L242.2 330 L242.2 306.6 L243.4 306.6 L243.4 287 L245 287 L245 308 L246.86 308 L246.86 340.32 L248.61 340.32 L248.61 346.59 L250.36 346.59 L250.36 330.93 L252.12 330.93 L252.12 338.24 L253.87 338.24 L253.87 336.15 L255.62 336.15 L255.62 325.71 L257.38 325.71 L257.38 320.49 L259.13 320.49 L259.13 323.62 L260.89 323.62 L260.89 328.84 L262.64 328.84 L262.64 326.75 L264.39 326.75 L264.39 335.1 L266.15 335.1 L266.15 329.89 L267.9 329.89 L267.9 346.59 L269.65 346.59 L269.65 329.89 L271.41 329.89 L271.41 327.8 L273.16 327.8 L273.16 322.58 L274 322.58 L274 343.46 L275.75 343.46 L275.75 322.58 L277.51 322.58 L277.51 339.28 L279.26 339.28 L279.26 323.62 L281.01 323.62 L281.01 340.32 L282.77 340.32 L282.77 334.06 L284.52 334.06 L284.52 326.75 L286.28 326.75 L286.28 339.28 L288.03 339.28 L288.03 334.06 L289.78 334.06 L289.78 345.54 L291.54 345.54 L291.54 329.89 L293.29 329.89 L293.29 341.37 L295.04 341.37 L295.04 327.8 L296.8 327.8 L296.8 335.1 L298.55 335.1 L298.55 329.89 L300.3 329.89 L300.3 331.97 L302.06 331.97 L302.06 333.02 L303.81 333.02 L303.81 318.4 L305.57 318.4 L305.57 325.71 L307.32 325.71 L307.32 346.59 L309.07 346.59 L309.07 338.24 L310.83 338.24 L310.83 323.62 L312.58 323.62 L312.58 319.45 L314.33 319.45 L314.33 334.06 L316.09 334.06 L316.09 338.24 L317.84 338.24 L317.84 336.15 L319.59 336.15 L319.59 340.32 L321.35 340.32 L321.35 334.06 L323.1 334.06 L323.1 326.75 L324.86 326.75 L324.86 307.55 L326.61 307.55 L326.61 319.45 L328.36 319.45 L328.36 333.02 L330.12 333.02 L330.12 338.24 L331.87 338.24 L331.87 346.59 L333.62 346.59 L333.62 334.06 L335.38 334.06 L335.38 316.32 L337.13 316.32 L337.13 306.92 L338.89 306.92 L338.89 334.06 L340.64 334.06 L340.64 312.14 L342.39 312.14 L342.39 304.83 L344.15 304.83 L344.15 324.67 L345.9 324.67 L345.9 341.37 L347.65 341.37 L347.65 334.06 L349.41 334.06 L349.41 337.19 L351.16 337.19 L351.16 318.4 L352.91 318.4 L352.91 323.62 L354.67 323.62 L354.67 343.46 L356.42 343.46 L356.42 336.15 L358.18 336.15 L358.18 340.32 L359.93 340.32 L359.93 349.72 L361.68 349.72 L361.68 337.19 L363 337.19" fill="none" stroke="#000" stroke-width="1.5" stroke-linejoin="miter"/>
<path d="M42 331.52 L73.25 331.52 L73.5 331.51 L73.75 331.5 L74 331.48 L74.25 331.44 L74.5 331.37 L74.75 331.25 L75 331.06 L75.25 330.76 L75.5 330.32 L75.75 329.67 L76 328.8 L76.25 327.65 L76.5 326.22 L76.75 324.52 L77 322.62 L77.25 320.61 L77.5 318.64 L77.75 316.86 L78 315.44 L78.25 314.52 L78.5 314.2 L78.75 314.52 L79 315.44 L79.25 316.86 L79.5 318.64 L79.75 320.61 L80 322.62 L80.25 324.52 L80.5 326.22 L80.75 327.65 L81 328.8 L81.25 329.67 L81.5 330.32 L81.75 330.76 L82 331.06 L82.25 331.25 L82.5 331.37 L82.75 331.44 L83 331.48 L83.25 331.5 L83.5 331.51 L83.75 331.52 L232.25 331.52 L232.5 331.51 L232.75 331.49 L233 331.45 L233.25 331.35 L233.5 331.17 L233.75 330.81 L234 330.15 L234.25 329.02 L234.5 327.18 L234.75 324.32 L235 320.13 L235.25 314.33 L235.5 306.78 L235.75 297.56 L236 287.07 L236.25 276.01 L236.5 265.4 L236.75 256.4 L237 250.12 L237.25 247.38 L237.5 248.56 L237.75 253.51 L238 261.54 L238.25 271.65 L238.5 282.66 L238.75 293.49 L239 303.28 L239.25 311.52 L239.5 318 L239.75 322.79 L240 326.12 L240.25 328.26 L240.5 329.51 L240.75 330.09 L241 330.11 L241.25 329.62 L241.5 328.56 L241.75 326.82 L242 324.28 L242.25 320.82 L242.5 316.42 L242.75 311.19 L243 305.4 L243.25 299.52 L243.5 294.11 L243.75 289.82 L244 287.18 L244.25 286.54 L244.5 288.01 L244.75 291.37 L245 296.18 L245.25 301.85 L245.5 307.76 L245.75 313.37 L246 318.3 L246.25 322.33 L246.5 325.43 L246.75 327.67 L247 329.2 L247.25 330.19 L247.5 330.79 L247.75 331.14 L248 331.33 L248.25 331.43 L248.5 331.48 L248.75 331.51 L249 331.52 L321 331.52 L321.25 331.51 L321.5 331.49 L321.75 331.45 L322 331.39 L322.25 331.28 L322.5 331.1 L322.75 330.8 L323 330.35 L323.25 329.67 L323.5 328.71 L323.75 327.4 L324 325.71 L324.25 323.63 L324.5 321.18 L324.75 318.47 L325 315.64 L325.25 312.9 L325.5 310.48 L325.75 308.61 L326 307.49 L326.25 307.22 L326.5 307.84 L326.75 309.28 L327 311.4 L327.25 313.97 L327.5 316.77 L327.75 319.57 L328 322.2 L328.25 324.51 L328.5 326.44 L328.75 327.97 L329 329.13 L329.25 329.97 L329.5 330.55 L329.75 330.94 L330 331.18 L330.25 331.33 L330.5 331.42 L330.75 331.47 L331 331.5 L331.25 331.51 L331.5 331.52 L337.5 331.52 L337.75 331.51 L338 331.49 L338.25 331.46 L338.5 331.4 L338.75 331.3 L339 331.13 L339.25 330.84 L339.5 330.39 L339.75 329.7 L340 328.72 L340.25 327.36 L340.5 325.56 L340.75 323.3 L341 320.59 L341.25 317.51 L341.5 314.22 L341.75 310.94 L342 307.92 L342.25 305.44 L342.5 303.75 L342.75 303.02 L343 303.34 L343.25 304.66 L343.5 306.85 L343.75 309.68 L344 312.9 L344.25 316.21 L344.5 319.39 L344.75 322.26 L345 324.71 L345.25 326.69 L345.5 328.22 L345.75 329.35 L346 330.14 L346.25 330.68 L346.5 331.03 L346.75 331.24 L347 331.37 L347.25 331.44 L347.5 331.48 L347.75 331.5 L348 331.51 L363 331.52" fill="none" stroke="#e8506a" stroke-width="1.05"/>
<path d="M75.25 330.76 L75.5 330.32 L75.75 329.67 L76 328.8 L76.25 327.65 L76.5 326.22 L76.75 324.52 L77 322.62 L77.25 320.61 L77.5 318.64 L77.75 316.86 L78 315.44 L78.25 314.52 L78.5 314.2 L78.75 314.52 L79 315.44 L79.25 316.86 L79.5 318.64 L79.75 320.61 L80 322.62 L80.25 324.52 L80.5 326.22 L80.75 327.65 L81 328.8 L81.25 329.67 L81.5 330.32 L81.75 330.76 M233.75 330.81 L234 330.15 L234.25 329.02 L234.5 327.18 L234.75 324.32 L235 320.13 L235.25 314.33 L235.5 306.78 L235.75 297.56 L236 287.07 L236.25 276.01 L236.5 265.4 L236.75 256.4 L237 250.12 L237.25 247.38 L237.5 248.56 L237.75 253.51 L238 261.54 L238.25 271.65 L238.5 282.66 L238.75 293.49 L239 303.28 L239.25 311.52 L239.5 318 L239.75 322.79 L240 326.12 L240.25 328.26 L240.5 329.51 L240.75 330.09 L241 330.11 L241.25 329.62 L241.5 328.56 L241.75 326.82 L242 324.28 L242.25 320.82 L242.5 316.42 L242.75 311.19 L243 305.4 L243.25 299.52 L243.5 294.11 L243.75 289.82 L244 287.18 L244.25 286.54 L244.5 288.01 L244.75 291.37 L245 296.18 L245.25 301.85 L245.5 307.76 L245.75 313.37 L246 318.3 L246.25 322.33 L246.5 325.43 L246.75 327.67 L247 329.2 L247.25 330.19 L247.5 330.79 M322.75 330.8 L323 330.35 L323.25 329.67 L323.5 328.71 L323.75 327.4 L324 325.71 L324.25 323.63 L324.5 321.18 L324.75 318.47 L325 315.64 L325.25 312.9 L325.5 310.48 L325.75 308.61 L326 307.49 L326.25 307.22 L326.5 307.84 L326.75 309.28 L327 311.4 L327.25 313.97 L327.5 316.77 L327.75 319.57 L328 322.2 L328.25 324.51 L328.5 326.44 L328.75 327.97 L329 329.13 L329.25 329.97 L329.5 330.55 M339.25 330.84 L339.5 330.39 L339.75 329.7 L340 328.72 L340.25 327.36 L340.5 325.56 L340.75 323.3 L341 320.59 L341.25 317.51 L341.5 314.22 L341.75 310.94 L342 307.92 L342.25 305.44 L342.5 303.75 L342.75 303.02 L343 303.34 L343.25 304.66 L343.5 306.85 L343.75 309.68 L344 312.9 L344.25 316.21 L344.5 319.39 L344.75 322.26 L345 324.71 L345.25 326.69 L345.5 328.22 L345.75 329.35 L346 330.14 L346.25 330.68" fill="none" stroke="#c8102e" stroke-width="1.15"/>
<path d="M64.93 361.4v-2.5M64.93 192.1v2.5M87.86 361.4v-2.5M87.86 192.1v2.5M110.79 361.4v-4.5M110.79 192.1v4.5M133.71 361.4v-2.5M133.71 192.1v2.5M156.64 361.4v-2.5M156.64 192.1v2.5M179.57 361.4v-2.5M179.57 192.1v2.5M202.5 361.4v-4.5M202.5 192.1v4.5M225.43 361.4v-2.5M225.43 192.1v2.5M248.36 361.4v-2.5M248.36 192.1v2.5M271.29 361.4v-2.5M271.29 192.1v2.5M294.21 361.4v-4.5M294.21 192.1v4.5M317.14 361.4v-2.5M317.14 192.1v2.5M340.07 361.4v-2.5M340.07 192.1v2.5M42 351.44h2.5M363 351.44h-2.5M42 341.48h2.5M363 341.48h-2.5M42 331.52h4.5M363 331.52h-4.5M42 321.56h2.5M363 321.56h-2.5M42 311.61h2.5M363 311.61h-2.5M42 301.65h2.5M363 301.65h-2.5M42 291.69h4.5M363 291.69h-4.5M42 281.73h2.5M363 281.73h-2.5M42 271.77h2.5M363 271.77h-2.5M42 261.81h2.5M363 261.81h-2.5M42 251.85h4.5M363 251.85h-4.5M42 241.89h2.5M363 241.89h-2.5M42 231.94h2.5M363 231.94h-2.5M42 221.98h2.5M363 221.98h-2.5M42 212.02h4.5M363 212.02h-4.5M42 202.06h2.5M363 202.06h-2.5" stroke="#000" stroke-width="1.5" fill="none"/>
<rect x="42" y="192.1" width="321" height="169.3" stroke="#000" stroke-width="1.5" fill="none"/>
<text x="37.7" y="334.62" class="tl" text-anchor="end">0</text>
<text x="37.7" y="294.79" class="tl" text-anchor="end">0.02</text>
<text x="37.7" y="254.95" class="tl" text-anchor="end">0.04</text>
<text x="37.7" y="215.12" class="tl" text-anchor="end">0.06</text>
<text x="110.79" y="372" class="tl" text-anchor="middle">−20</text>
<text x="202.5" y="372" class="tl" text-anchor="middle">0</text>
<text x="294.21" y="372" class="tl" text-anchor="middle">20</text>
<text x="202.5" y="381.2" class="al" text-anchor="middle">Velocity (km/s)</text>
<text transform="translate(7.5 290.65) rotate(-90)" class="yl">T<tspan class="sub" dx="-1.2" dy="1.5">MB</tspan><tspan dy="-1.5" dx="1.0">(K)</tspan></text>
<text x="223.4" y="241.9" class="lb"><tspan class="b">F</tspan><tspan class="eq" dy="-0.5">–</tspan><tspan dy="0.5">3</tspan><tspan class="m">–</tspan>2</text>
<text x="241.3" y="263.2" class="lb"><tspan class="b">F</tspan><tspan class="eq" dy="-0.5">–</tspan><tspan dy="0.5">2</tspan><tspan class="m">–</tspan>1</text>
<text x="67.8" y="298.3" class="lb"><tspan class="b">F</tspan><tspan class="eq" dy="-0.5">–</tspan><tspan dy="0.5">1</tspan><tspan class="m">–</tspan>1</text>
<text x="299.3" y="301.4" class="lb"><tspan class="b">F</tspan><tspan class="eq" dy="-0.5">–</tspan><tspan dy="0.5">1</tspan><tspan class="m">–</tspan>0</text>
<text x="331.7" y="295.7" class="lb"><tspan class="b">F</tspan><tspan class="eq" dy="-0.5">–</tspan><tspan dy="0.5">2</tspan><tspan class="m">–</tspan>2</text>
<text x="142.3" y="232.1" class="tt"><tspan class="b">HC</tspan><tspan class="sp" dy="-2.6">13</tspan><tspan class="k" dy="2.6">CCN</tspan> J<tspan class="eq" dy="-0.6">–</tspan><tspan dy="0.6">2–1</tspan></text>
<path d="M409.4 331.51 L442.9 331.5 L443.15 331.49 L443.4 331.47 L443.65 331.44 L443.9 331.39 L444.15 331.3 L444.4 331.15 L444.65 330.91 L444.9 330.54 L445.15 330.01 L445.4 329.27 L445.65 328.28 L445.9 327.03 L446.15 325.51 L446.4 323.77 L446.65 321.88 L446.9 319.97 L447.15 318.18 L447.4 316.67 L447.65 315.59 L447.9 315.05 L448.15 315.11 L448.4 315.76 L448.65 316.94 L448.9 318.52 L449.15 320.34 L449.4 322.26 L449.65 324.13 L449.9 325.83 L450.15 327.3 L450.4 328.5 L450.65 329.44 L450.9 330.13 L451.15 330.63 L451.4 330.97 L451.65 331.19 L451.9 331.32 L452.15 331.4 L452.4 331.45 L452.65 331.48 L452.9 331.49 L453.15 331.5 L599.9 331.5 L600.15 331.48 L600.4 331.45 L600.65 331.38 L600.9 331.22 L601.15 330.92 L601.4 330.34 L601.65 329.3 L601.9 327.53 L602.15 324.66 L602.4 320.26 L602.65 313.88 L602.9 305.17 L603.15 293.96 L603.4 280.46 L603.65 265.31 L603.9 249.62 L604.15 234.89 L604.4 222.78 L604.65 214.79 L604.9 212 L605.15 214.79 L605.4 222.78 L605.65 234.89 L605.9 249.62 L606.15 265.31 L606.4 280.46 L606.65 293.96 L606.9 305.16 L607.15 313.87 L607.4 320.22 L607.65 324.59 L607.9 327.37 L608.15 328.98 L608.4 329.7 L608.65 329.71 L608.9 329.04 L609.15 327.62 L609.4 325.28 L609.65 321.82 L609.9 317.06 L610.15 310.92 L610.4 303.52 L610.65 295.22 L610.9 286.62 L611.15 278.55 L611.4 271.91 L611.65 267.53 L611.9 266 L612.15 267.53 L612.4 271.91 L612.65 278.55 L612.9 286.62 L613.15 295.22 L613.4 303.53 L613.65 310.93 L613.9 317.07 L614.15 321.84 L614.4 325.34 L614.65 327.75 L614.9 329.33 L615.15 330.3 L615.4 330.87 L615.65 331.18 L615.9 331.35 L616.15 331.44 L616.4 331.47 L616.65 331.49 L616.9 331.5 L688.9 331.5 L689.15 331.49 L689.4 331.46 L689.65 331.42 L689.9 331.34 L690.15 331.21 L690.4 330.97 L690.65 330.58 L690.9 329.97 L691.15 329.05 L691.4 327.72 L691.65 325.88 L691.9 323.46 L692.15 320.4 L692.4 316.74 L692.65 312.59 L692.9 308.15 L693.15 303.72 L693.4 299.64 L693.65 296.3 L693.9 294.01 L694.15 293.03 L694.4 293.45 L694.65 295.24 L694.9 298.2 L695.15 302.02 L695.4 306.36 L695.65 310.83 L695.9 315.13 L696.15 319 L696.4 322.31 L696.65 324.99 L696.9 327.05 L697.15 328.57 L697.4 329.64 L697.65 330.37 L697.9 330.84 L698.15 331.13 L698.4 331.3 L698.65 331.4 L698.9 331.45 L699.15 331.48 L699.4 331.49 L699.65 331.5 L730.15 331.51 L730.3 331.51 L409.4 331.51 Z" fill="#f7a8bd" stroke="none"/>
<path d="M409.4 322.58 L410.75 322.58 L410.75 335.1 L412.51 335.1 L412.51 340.32 L414.26 340.32 L414.26 337.19 L416.01 337.19 L416.01 342.41 L417.77 342.41 L417.77 347.63 L419.52 347.63 L419.52 336.15 L421.28 336.15 L421.28 325.71 L423.03 325.71 L423.03 326.75 L424.78 326.75 L424.78 330.93 L426.54 330.93 L426.54 339.28 L428.29 339.28 L428.29 324.67 L430.04 324.67 L430.04 319.45 L431.8 319.45 L431.8 329.89 L433.55 329.89 L433.55 334.06 L435.3 334.06 L435.3 323.62 L437.06 323.62 L437.06 327.8 L438.81 327.8 L438.81 335.1 L440.57 335.1 L440.57 329.89 L442.32 329.89 L442.32 323.62 L444.07 323.62 L444.07 318.4 L445.83 318.4 L445.83 315.27 L447.58 315.27 L447.58 309.01 L449.33 309.01 L449.33 342.41 L451.09 342.41 L451.09 327.8 L452.84 327.8 L452.84 319.45 L454.59 319.45 L454.59 335.1 L456.35 335.1 L456.35 320.49 L458.1 320.49 L458.1 328.84 L459.86 328.84 L459.86 337.19 L461.61 337.19 L461.61 327.8 L463.36 327.8 L463.36 335.1 L465.12 335.1 L465.12 326.75 L466.87 326.75 L466.87 339.28 L468.62 339.28 L468.62 319.45 L470.38 319.45 L470.38 331.97 L472.13 331.97 L472.13 323.62 L473.89 323.62 L473.89 337.19 L475.64 337.19 L475.64 346.59 L477.39 346.59 L477.39 341.37 L479.15 341.37 L479.15 325.71 L480.9 325.71 L480.9 337.19 L482.65 337.19 L482.65 325.71 L484.41 325.71 L484.41 334.06 L486.16 334.06 L486.16 323.62 L487 323.62 L487 321.53 L488.75 321.53 L488.75 341.37 L490.51 341.37 L490.51 326.75 L492.26 326.75 L492.26 328.84 L494.01 328.84 L494.01 324.67 L495.77 324.67 L495.77 315.27 L497.52 315.27 L497.52 336.15 L499.28 336.15 L499.28 326.75 L501.03 326.75 L501.03 335.1 L502.78 335.1 L502.78 334.06 L504.54 334.06 L504.54 333.02 L506.29 333.02 L506.29 321.53 L508.04 321.53 L508.04 323.62 L509.8 323.62 L509.8 318.4 L511.55 318.4 L511.55 324.67 L513.3 324.67 L513.3 339.28 L515.06 339.28 L515.06 328.84 L516.81 328.84 L516.81 340.32 L518.57 340.32 L518.57 326.75 L520.32 326.75 L520.32 323.62 L522.07 323.62 L522.07 351.81 L523.83 351.81 L523.83 333.02 L525.58 333.02 L525.58 345.54 L527.33 345.54 L527.33 328.84 L529.09 328.84 L529.09 322.58 L530.84 322.58 L530.84 347.63 L532.59 347.63 L532.59 355.98 L534.35 355.98 L534.35 319.45 L536.1 319.45 L536.1 325.71 L537.86 325.71 L537.86 328.84 L539.61 328.84 L539.61 333.02 L541.36 333.02 L541.36 339.28 L543.12 339.28 L543.12 346.59 L544.87 346.59 L544.87 335.1 L546.62 335.1 L546.62 331.97 L548.38 331.97 L548.38 340.32 L550.13 340.32 L550.13 322.58 L551.89 322.58 L551.89 327.8 L553.64 327.8 L553.64 321.53 L555.39 321.53 L555.39 343.46 L557.15 343.46 L557.15 325.71 L558.9 325.71 L558.9 328.84 L560.65 328.84 L560.65 317.36 L562.41 317.36 L562.41 329.89 L564.16 329.89 L564.16 322.58 L565 322.58 L565 322.58 L566.75 322.58 L566.75 337.19 L568.51 337.19 L568.51 329.89 L570.26 329.89 L570.26 335.1 L572.01 335.1 L572.01 339.28 L573.77 339.28 L573.77 345.54 L575.52 345.54 L575.52 325.71 L577.28 325.71 L577.28 316.32 L579.03 316.32 L579.03 314.23 L580.78 314.23 L580.78 323.62 L582.54 323.62 L582.54 330.93 L584.29 330.93 L584.29 342.41 L586.04 342.41 L586.04 324.67 L587.8 324.67 L587.8 330.93 L589.55 330.93 L589.55 316.32 L591.3 316.32 L591.3 341.37 L593.06 341.37 L593.06 326.75 L594.81 326.75 L594.81 323.62 L596.57 323.62 L596.57 329.89 L598.32 329.89 L598.32 325.71 L599.7 325.71 L599.7 330 L602.3 330 L602.3 292.5 L603.4 292.5 L603.4 234.8 L604.2 234.8 L604.2 211.8 L605.6 211.8 L605.6 325 L607.3 325 L607.3 331 L609.5 331 L609.5 292 L611 292 L611 265.4 L612.7 265.4 L612.7 300 L615.86 300 L615.86 333.02 L617.61 333.02 L617.61 341.37 L619.36 341.37 L619.36 334.06 L621.12 334.06 L621.12 335.1 L622.87 335.1 L622.87 326.75 L624.62 326.75 L624.62 338.24 L626.38 338.24 L626.38 325.71 L628.13 325.71 L628.13 333.02 L629.89 333.02 L629.89 328.84 L631.64 328.84 L631.64 329.89 L633.39 329.89 L633.39 326.75 L635.15 326.75 L635.15 330.93 L636.9 330.93 L636.9 328.84 L638.65 328.84 L638.65 338.24 L640.41 338.24 L640.41 323.62 L642.16 323.62 L642.16 314.23 L643 314.23 L643 323.24 L644.75 323.24 L644.75 314.37 L646.5 314.37 L646.5 328.78 L648.25 328.78 L648.25 337.65 L650.01 337.65 L650.01 344.3 L651.76 344.3 L651.76 333.22 L653.51 333.22 L653.51 327.67 L655.26 327.67 L655.26 335.43 L657.01 335.43 L657.01 332.11 L658.76 332.11 L658.76 335.43 L660.52 335.43 L660.52 337.65 L662.27 337.65 L662.27 323.24 L664.02 323.24 L664.02 322.13 L665.77 322.13 L665.77 327.67 L667.52 327.67 L667.52 339.87 L669.27 339.87 L669.27 342.08 L671.03 342.08 L671.03 329.89 L672.78 329.89 L672.78 338.76 L674.53 338.76 L674.53 327.67 L676.28 327.67 L676.28 325.45 L678.03 325.45 L678.03 339.87 L679.78 339.87 L679.78 346.52 L681.54 346.52 L681.54 327.67 L683.29 327.67 L683.29 333.22 L685.04 333.22 L685.04 321.02 L686.79 321.02 L686.79 333.22 L688.54 333.22 L688.54 338.76 L690.29 338.76 L690.29 326.56 L692.05 326.56 L692.05 289.98 L693.8 289.98 L693.8 311.04 L695.55 311.04 L695.55 326.56 L697.3 326.56 L697.3 316.59 L699.05 316.59 L699.05 333.22 L700.8 333.22 L700.8 339.87 L702.56 339.87 L702.56 329.89 L704.31 329.89 L704.31 345.41 L706.06 345.41 L706.06 336.54 L707.81 336.54 L707.81 323.24 L709.56 323.24 L709.56 316.59 L711.31 316.59 L711.31 314.37 L713.07 314.37 L713.07 324.35 L714.82 324.35 L714.82 319.91 L716.57 319.91 L716.57 329.89 L718.32 329.89 L718.32 326.56 L720.07 326.56 L720.07 334.32 L721.82 334.32 L721.82 337.65 L723.58 337.65 L723.58 342.08 L725.33 342.08 L725.33 328.78 L727.08 328.78 L727.08 322.13 L728.83 322.13 L728.83 340.98 L730.3 340.98" fill="none" stroke="#000" stroke-width="1.5" stroke-linejoin="miter"/>
<path d="M409.4 331.51 L442.9 331.5 L443.15 331.49 L443.4 331.47 L443.65 331.44 L443.9 331.39 L444.15 331.3 L444.4 331.15 L444.65 330.91 L444.9 330.54 L445.15 330.01 L445.4 329.27 L445.65 328.28 L445.9 327.03 L446.15 325.51 L446.4 323.77 L446.65 321.88 L446.9 319.97 L447.15 318.18 L447.4 316.67 L447.65 315.59 L447.9 315.05 L448.15 315.11 L448.4 315.76 L448.65 316.94 L448.9 318.52 L449.15 320.34 L449.4 322.26 L449.65 324.13 L449.9 325.83 L450.15 327.3 L450.4 328.5 L450.65 329.44 L450.9 330.13 L451.15 330.63 L451.4 330.97 L451.65 331.19 L451.9 331.32 L452.15 331.4 L452.4 331.45 L452.65 331.48 L452.9 331.49 L453.15 331.5 L599.9 331.5 L600.15 331.48 L600.4 331.45 L600.65 331.38 L600.9 331.22 L601.15 330.92 L601.4 330.34 L601.65 329.3 L601.9 327.53 L602.15 324.66 L602.4 320.26 L602.65 313.88 L602.9 305.17 L603.15 293.96 L603.4 280.46 L603.65 265.31 L603.9 249.62 L604.15 234.89 L604.4 222.78 L604.65 214.79 L604.9 212 L605.15 214.79 L605.4 222.78 L605.65 234.89 L605.9 249.62 L606.15 265.31 L606.4 280.46 L606.65 293.96 L606.9 305.16 L607.15 313.87 L607.4 320.22 L607.65 324.59 L607.9 327.37 L608.15 328.98 L608.4 329.7 L608.65 329.71 L608.9 329.04 L609.15 327.62 L609.4 325.28 L609.65 321.82 L609.9 317.06 L610.15 310.92 L610.4 303.52 L610.65 295.22 L610.9 286.62 L611.15 278.55 L611.4 271.91 L611.65 267.53 L611.9 266 L612.15 267.53 L612.4 271.91 L612.65 278.55 L612.9 286.62 L613.15 295.22 L613.4 303.53 L613.65 310.93 L613.9 317.07 L614.15 321.84 L614.4 325.34 L614.65 327.75 L614.9 329.33 L615.15 330.3 L615.4 330.87 L615.65 331.18 L615.9 331.35 L616.15 331.44 L616.4 331.47 L616.65 331.49 L616.9 331.5 L688.9 331.5 L689.15 331.49 L689.4 331.46 L689.65 331.42 L689.9 331.34 L690.15 331.21 L690.4 330.97 L690.65 330.58 L690.9 329.97 L691.15 329.05 L691.4 327.72 L691.65 325.88 L691.9 323.46 L692.15 320.4 L692.4 316.74 L692.65 312.59 L692.9 308.15 L693.15 303.72 L693.4 299.64 L693.65 296.3 L693.9 294.01 L694.15 293.03 L694.4 293.45 L694.65 295.24 L694.9 298.2 L695.15 302.02 L695.4 306.36 L695.65 310.83 L695.9 315.13 L696.15 319 L696.4 322.31 L696.65 324.99 L696.9 327.05 L697.15 328.57 L697.4 329.64 L697.65 330.37 L697.9 330.84 L698.15 331.13 L698.4 331.3 L698.65 331.4 L698.9 331.45 L699.15 331.48 L699.4 331.49 L699.65 331.5 L730.15 331.51" fill="none" stroke="#e8506a" stroke-width="1.05"/>
<path d="M444.9 330.54 L445.15 330.01 L445.4 329.27 L445.65 328.28 L445.9 327.03 L446.15 325.51 L446.4 323.77 L446.65 321.88 L446.9 319.97 L447.15 318.18 L447.4 316.67 L447.65 315.59 L447.9 315.05 L448.15 315.11 L448.4 315.76 L448.65 316.94 L448.9 318.52 L449.15 320.34 L449.4 322.26 L449.65 324.13 L449.9 325.83 L450.15 327.3 L450.4 328.5 L450.65 329.44 L450.9 330.13 L451.15 330.63 M601.4 330.34 L601.65 329.3 L601.9 327.53 L602.15 324.66 L602.4 320.26 L602.65 313.88 L602.9 305.17 L603.15 293.96 L603.4 280.46 L603.65 265.31 L603.9 249.62 L604.15 234.89 L604.4 222.78 L604.65 214.79 L604.9 212 L605.15 214.79 L605.4 222.78 L605.65 234.89 L605.9 249.62 L606.15 265.31 L606.4 280.46 L606.65 293.96 L606.9 305.16 L607.15 313.87 L607.4 320.22 L607.65 324.59 L607.9 327.37 L608.15 328.98 L608.4 329.7 L608.65 329.71 L608.9 329.04 L609.15 327.62 L609.4 325.28 L609.65 321.82 L609.9 317.06 L610.15 310.92 L610.4 303.52 L610.65 295.22 L610.9 286.62 L611.15 278.55 L611.4 271.91 L611.65 267.53 L611.9 266 L612.15 267.53 L612.4 271.91 L612.65 278.55 L612.9 286.62 L613.15 295.22 L613.4 303.53 L613.65 310.93 L613.9 317.07 L614.15 321.84 L614.4 325.34 L614.65 327.75 L614.9 329.33 L615.15 330.3 L615.4 330.87 M690.65 330.58 L690.9 329.97 L691.15 329.05 L691.4 327.72 L691.65 325.88 L691.9 323.46 L692.15 320.4 L692.4 316.74 L692.65 312.59 L692.9 308.15 L693.15 303.72 L693.4 299.64 L693.65 296.3 L693.9 294.01 L694.15 293.03 L694.4 293.45 L694.65 295.24 L694.9 298.2 L695.15 302.02 L695.4 306.36 L695.65 310.83 L695.9 315.13 L696.15 319 L696.4 322.31 L696.65 324.99 L696.9 327.05 L697.15 328.57 L697.4 329.64 L697.65 330.37 L697.9 330.84" fill="none" stroke="#c8102e" stroke-width="1.15"/>
<path d="M432.32 361.4v-2.5M432.32 192v2.5M455.24 361.4v-2.5M455.24 192v2.5M478.16 361.4v-4.5M478.16 192v4.5M501.09 361.4v-2.5M501.09 192v2.5M524.01 361.4v-2.5M524.01 192v2.5M546.93 361.4v-2.5M546.93 192v2.5M569.85 361.4v-4.5M569.85 192v4.5M592.77 361.4v-2.5M592.77 192v2.5M615.69 361.4v-2.5M615.69 192v2.5M638.61 361.4v-2.5M638.61 192v2.5M661.54 361.4v-4.5M661.54 192v4.5M684.46 361.4v-2.5M684.46 192v2.5M707.38 361.4v-2.5M707.38 192v2.5M409.4 351.44h2.5M730.3 351.44h-2.5M409.4 341.47h2.5M730.3 341.47h-2.5M409.4 331.51h4.5M730.3 331.51h-4.5M409.4 321.54h2.5M730.3 321.54h-2.5M409.4 311.58h2.5M730.3 311.58h-2.5M409.4 301.61h2.5M730.3 301.61h-2.5M409.4 291.65h4.5M730.3 291.65h-4.5M409.4 281.68h2.5M730.3 281.68h-2.5M409.4 271.72h2.5M730.3 271.72h-2.5M409.4 261.75h2.5M730.3 261.75h-2.5M409.4 251.79h4.5M730.3 251.79h-4.5M409.4 241.82h2.5M730.3 241.82h-2.5M409.4 231.86h2.5M730.3 231.86h-2.5M409.4 221.89h2.5M730.3 221.89h-2.5M409.4 211.93h4.5M730.3 211.93h-4.5M409.4 201.96h2.5M730.3 201.96h-2.5" stroke="#000" stroke-width="1.5" fill="none"/>
<rect x="409.4" y="192" width="320.9" height="169.4" stroke="#000" stroke-width="1.5" fill="none"/>
<text x="405.1" y="334.61" class="tl" text-anchor="end">0</text>
<text x="405.1" y="294.75" class="tl" text-anchor="end">0.02</text>
<text x="405.1" y="254.89" class="tl" text-anchor="end">0.04</text>
<text x="405.1" y="215.03" class="tl" text-anchor="end">0.06</text>
<text x="478.16" y="372" class="tl" text-anchor="middle">−20</text>
<text x="569.85" y="372" class="tl" text-anchor="middle">0</text>
<text x="661.54" y="372" class="tl" text-anchor="middle">20</text>
<text x="569.85" y="381.2" class="al" text-anchor="middle">Velocity (km/s)</text>
<text transform="translate(374.9 290.6) rotate(-90)" class="yl">T<tspan class="sub" dx="-1.2" dy="1.5">MB</tspan><tspan dy="-1.5" dx="1.0">(K)</tspan></text>
<text x="573.7" y="236.5" class="lb"><tspan class="b">F</tspan><tspan class="eq" dy="-0.5">–</tspan><tspan dy="0.5">3</tspan><tspan class="m">–</tspan>2</text>
<text x="608.2" y="263.1" class="lb"><tspan class="b">F</tspan><tspan class="eq" dy="-0.5">–</tspan><tspan dy="0.5">2</tspan><tspan class="m">–</tspan>1</text>
<text x="435.9" y="298.3" class="lb"><tspan class="b">F</tspan><tspan class="eq" dy="-0.5">–</tspan><tspan dy="0.5">1</tspan><tspan class="m">–</tspan>1</text>
<text x="675.5" y="282.5" class="lb"><tspan class="b">F</tspan><tspan class="eq" dy="-0.5">–</tspan><tspan dy="0.5">1</tspan><tspan class="m">–</tspan>0</text>
<text x="456.6" y="229.6" class="tt"><tspan class="b">HCC</tspan><tspan class="sp" dy="-2.6">13</tspan><tspan class="k" dy="2.6">CN</tspan> J<tspan class="eq" dy="-0.6">–</tspan><tspan dy="0.6">2–1</tspan></text>
</svg>
</body></html>
